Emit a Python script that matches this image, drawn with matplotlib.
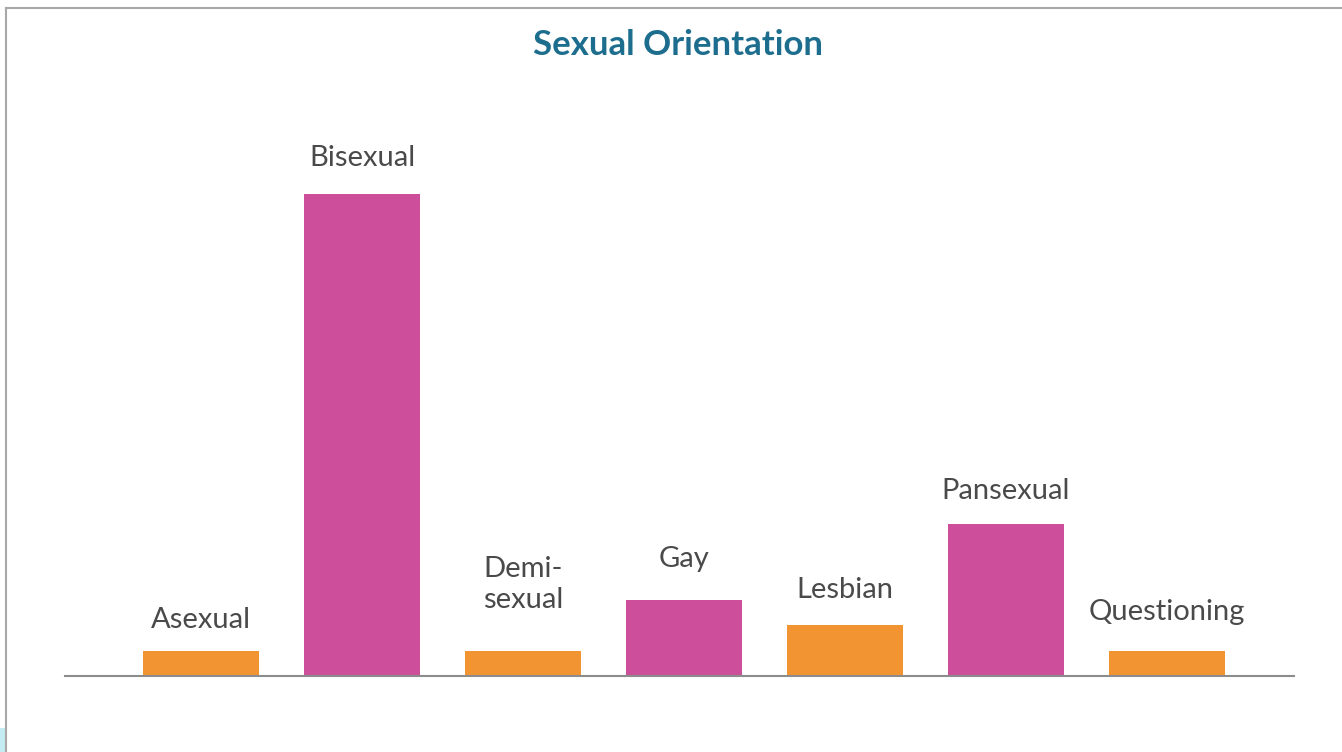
import numpy as np
import matplotlib.pyplot as plt
from matplotlib.lines import Line2D
from matplotlib.patches import Rectangle

categories = ["Asexual", "Bisexual", "Demi-\nsexual", "Gay", "Lesbian", "Pansexual", "Questioning"]
counts = [1, 19, 1, 3, 2, 6, 1]
bar_colors = ["#f39433", "#cd4f9c", "#f39433", "#cd4f9c", "#f39433", "#cd4f9c", "#f39433"]
# label offset above bar top (pixels), as in the original layout
label_offsets = [31, 36, 66, 41, 35, 33, 39]

fig = plt.figure(figsize=(13.42, 7.52), dpi=100)
ax = fig.add_axes([65 / 1342, 76 / 752, 1229 / 1342, 576 / 752])

x = np.arange(len(categories))
ax.bar(x, counts, width=0.72, color=bar_colors)

for xi, val, lab, off in zip(x, counts, categories, label_offsets):
    ax.annotate(lab, (xi, val), xytext=(0, off), textcoords="offset pixels",
                ha="center", va="center", fontsize=21, family="Lato",
                color="#4a4a4a", linespacing=1.25)

ax.set_xlim(-0.845, 6.79)
ax.set_ylim(0, 576 / 25.35)
for s in ["top", "right", "left"]:
    ax.spines[s].set_visible(False)
ax.spines["bottom"].set_color("#8c8c8c")
ax.spines["bottom"].set_linewidth(1.5)
ax.set_xticks([])
ax.set_yticks([])

fig.text(678 / 1342, 1 - 45 / 752, "Sexual Orientation", ha="center", va="center",
         fontsize=25, weight="bold", family="Lato", color="#1d6e8e")

# frame lines at top and left of the slide
fig.add_artist(Line2D([5.5 / 1342, 1], [1 - 7.5 / 752, 1 - 7.5 / 752], color="#a8a8a8", lw=1.5))
fig.add_artist(Line2D([5.5 / 1342, 5.5 / 1342], [0, 1 - 7.5 / 752], color="#a8a8a8", lw=1.5))
fig.add_artist(Rectangle((0, 0), 5 / 1342, 24 / 752, transform=fig.transFigure,
                         color="#c4ecf2", lw=0))

fig.savefig("out.png", dpi=100)
